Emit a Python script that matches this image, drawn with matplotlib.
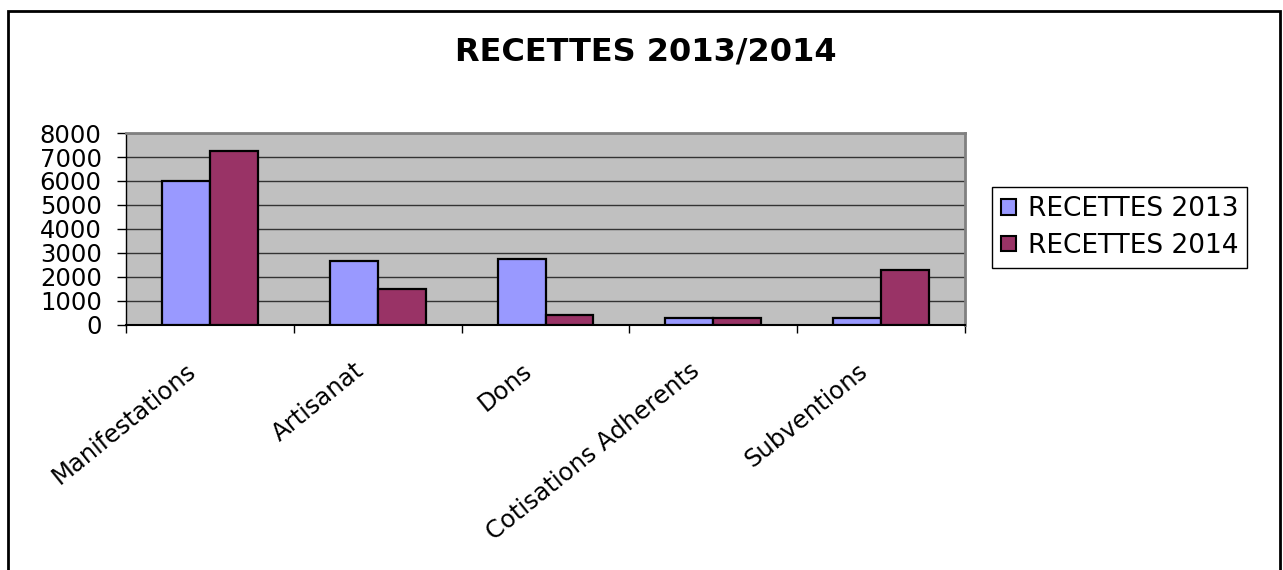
import numpy as np
import matplotlib.pyplot as plt
import matplotlib.transforms as mtransforms
from matplotlib.patches import Rectangle, Patch

categories = ["Manifestations", "Artisanat", "Dons", "Cotisations Adherents", "Subventions"]
recettes_2013 = [6000, 2650, 2750, 300, 300]
recettes_2014 = [7250, 1480, 400, 300, 2300]
series_names = ["RECETTES 2013", "RECETTES 2014"]
y_ticks = [0, 1000, 2000, 3000, 4000, 5000, 6000, 7000, 8000]

col_2013 = "#9999FF"
col_2014 = "#993366"

plt.rcParams["font.family"] = ["DejaVu Sans"]

W, H = 1283, 570
fig = plt.figure(figsize=(W / 100, H / 100), dpi=100)

# outer frame of the chart object
fig.patches.append(Rectangle((8 / W, -0.05), (1280 - 8) / W, 1 - 11 / H + 0.05,
                             transform=fig.transFigure, fill=False,
                             edgecolor="black", linewidth=2))

ax = fig.add_axes([126 / W, 1 - 325 / H, (965 - 126) / W, (325 - 133) / H])
ax.set_facecolor("#C0C0C0")

x = np.arange(len(categories))
w = 1 / 3.5
ax.bar(x - w / 2, recettes_2013, w, color=col_2013, edgecolor="black", linewidth=1.6, zorder=3)
ax.bar(x + w / 2, recettes_2014, w, color=col_2014, edgecolor="black", linewidth=1.6, zorder=3)

ax.set_xlim(-0.5, len(categories) - 0.5)
ax.set_ylim(0, 8000)
ax.set_yticks(y_ticks)
ax.set_yticklabels([str(v) for v in y_ticks])
ax.yaxis.grid(True, color="#333333", linewidth=1.0, zorder=1)
ax.tick_params(axis="y", length=6.5, width=1, direction="out", pad=11, labelsize=17.5)

# ticks between categories, labels at category centres
ax.set_xticks(np.arange(len(categories) + 1) - 0.5)
ax.set_xticklabels([])
ax.tick_params(axis="x", which="major", length=6, width=1, direction="out")
ax.set_xticks(x, minor=True)
ax.set_xticklabels(categories, minor=True, rotation=39, ha="right", va="top", fontsize=17.5)
ax.tick_params(axis="x", which="minor", length=0, pad=24)
offset = mtransforms.ScaledTranslation(-9 / 100, 0, fig.dpi_scale_trans)
for lab in ax.get_xticklabels(minor=True):
    lab.set_transform(lab.get_transform() + offset)

ax.spines["top"].set_color("#808080")
ax.spines["right"].set_color("#808080")
ax.spines["top"].set_linewidth(2)
ax.spines["right"].set_linewidth(2)
ax.spines["left"].set_linewidth(1)
ax.spines["bottom"].set_linewidth(1.5)

fig.text(646 / W, 1 - 52 / H, "RECETTES 2013/2014", ha="center", va="center",
         fontsize=23, fontweight="bold")

handles = [Patch(facecolor=col_2013, edgecolor="black", linewidth=1.5),
           Patch(facecolor=col_2014, edgecolor="black", linewidth=1.5)]
leg = fig.legend(handles, series_names, loc="upper left",
                 bbox_to_anchor=(992 / W, 1 - 187 / H), borderaxespad=0,
                 fontsize=19, fancybox=False, frameon=True, framealpha=1,
                 edgecolor="black", handlelength=0.55, handleheight=0.55,
                 handletextpad=0.45, labelspacing=0.4, borderpad=0.35)
leg.get_frame().set_linewidth(1)

fig.savefig("out.png", dpi=100)
